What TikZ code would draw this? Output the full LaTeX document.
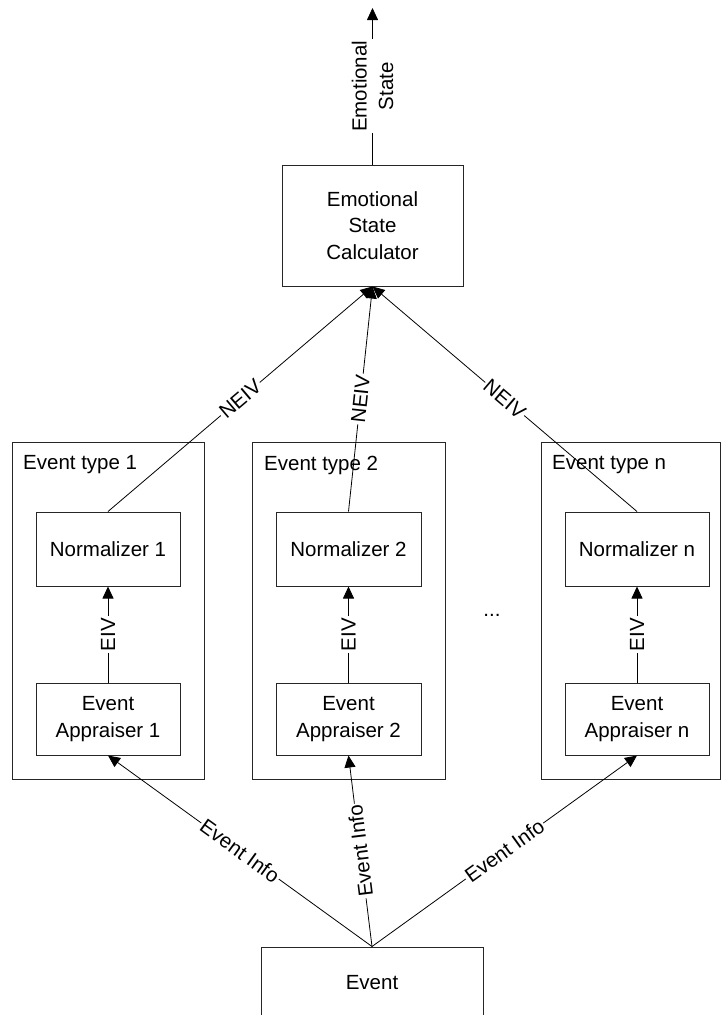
\documentclass[tikz,border=0pt]{standalone}
\usepackage{fontspec}
\setmainfont{Liberation Sans}
\usetikzlibrary{arrows.meta}
\begin{document}
\begin{tikzpicture}[x=1pt,y=-1pt,
  txt/.style={font=\fontsize{20.5}{26.5}\selectfont},
  box/.style={draw=black!85,line width=1pt,inner sep=0pt,txt,align=center},
  grp/.style={draw=black!85,line width=1pt,inner sep=0pt},
  lab/.style={fill=white,inner sep=1.5pt,txt,align=center},
  arr/.style={line width=0.8pt,-{Triangle[length=12pt,width=11pt]}},
  ln/.style={line width=0.8pt}]
\useasboundingbox (0,0) rectangle (722,1015);
\clip (0,0) rectangle (722,1015);
% group boxes
\node[grp,minimum width=192pt,minimum height=337pt] (g1) at (108,610.5) {};
\node[grp,minimum width=193pt,minimum height=337pt] (g2) at (348.5,610.5) {};
\node[grp,minimum width=179pt,minimum height=337pt] (gn) at (630.5,610.5) {};
\node[txt,anchor=west,inner sep=0pt] (t1) at (23,465) {Event type 1};
\node[txt,anchor=west,inner sep=0pt] (t2) at (264,465) {Event type 2};
\node[txt,anchor=west,inner sep=0pt] (tn) at (552,465) {Event type n};
% main boxes
\node[box,minimum width=181pt,minimum height=121pt] (esc) at (372.5,225.5) {Emotional\\State\\Calculator};
\node[box,minimum width=144pt,minimum height=74pt] (n1) at (108,549) {Normalizer 1};
\node[box,minimum width=145pt,minimum height=74pt] (n2) at (348.5,549) {Normalizer 2};
\node[box,minimum width=144pt,minimum height=74pt] (nn) at (637,549) {Normalizer n};
\node[box,minimum width=144pt,minimum height=72pt] (a1) at (108,719) {Event\\Appraiser 1};
\node[box,minimum width=145pt,minimum height=72pt] (a2) at (348.5,719) {Event\\Appraiser 2};
\node[box,minimum width=144pt,minimum height=72pt] (an) at (637,719) {Event\\Appraiser n};
\node[box,minimum width=222pt,minimum height=72pt] (ev) at (372,983) {Event};
\node[txt,anchor=base,inner sep=0pt] (dots) at (492,616) {...};
% output
\coordinate (top) at (372.5,8);
\draw[arr] (esc.north) -- node[lab,sloped] {Emotional\\State} (top);
% NEIV
\draw[arr] (n1.north) -- node[lab,sloped] {NEIV} (esc.south);
\draw[arr] (n2.north) -- node[lab,sloped] {NEIV} (esc.south);
\draw[arr] (nn.north) -- node[lab,sloped] {NEIV} (esc.south);
% EIV
\draw[arr] (a1.north) -- node[lab,sloped] {EIV} (n1.south);
\draw[arr] (a2.north) -- node[lab,sloped] {EIV} (n2.south);
\draw[arr] (an.north) -- node[lab,sloped] {EIV} (nn.south);
% Event info
\draw[arr] (ev.north) -- node[lab,sloped] {Event Info} (a1.south);
\draw[arr] (ev.north) -- node[lab,sloped,allow upside down] {Event Info} (a2.south);
\draw[arr] (ev.north) -- node[lab,sloped] {Event Info} (an.south);
\end{tikzpicture}
\end{document}
